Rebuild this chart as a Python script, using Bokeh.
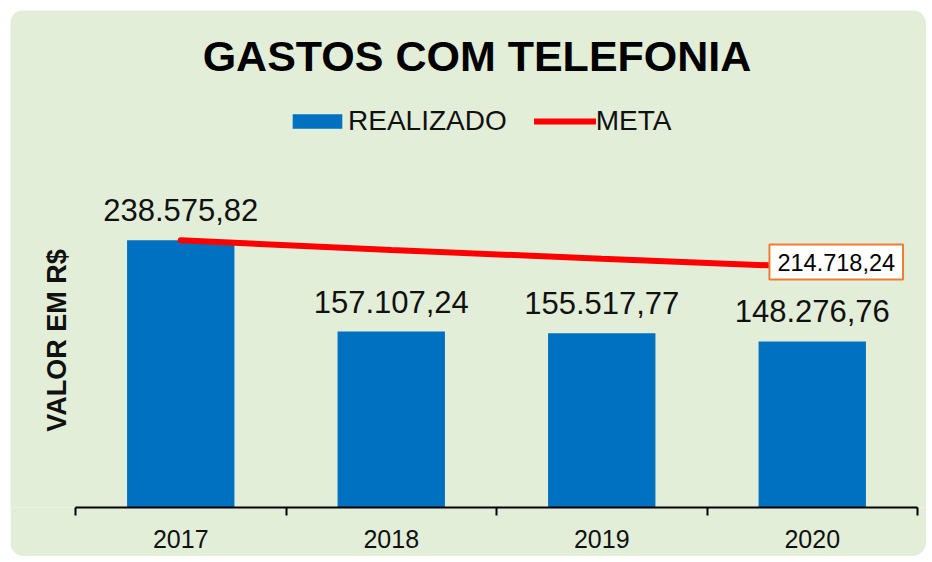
import numpy as np
from bokeh.plotting import figure
from bokeh.models import (Range1d, FixedTicker, Label, Legend, LegendItem,
                          ColumnDataSource)
from bokeh.core.properties import value
from bokeh.embed import file_html
from bokeh.resources import INLINE

# ---- data ----
years = ["2017", "2018", "2019", "2020"]
realizado = [238575.82, 157107.24, 155517.77, 148276.76]
meta = [238575.82, 230000.00, 222000.00, 214718.24]
title_text = "GASTOS COM TELEFONIA"
y_label = "VALOR EM R$"


def brl(v):
    s = f"{v:,.2f}"
    return s.replace(",", "X").replace(".", ",").replace("X", ".")


FONT = "Liberation Sans"
BG = "#E3EED9"
BLUE = "#0070C0"
RED = "#FF0000"
ORANGE = "#ED7D31"
TXT = "#111111"

# layout (pixels inside the figure)
W, H = 916, 546
AX_L, AX_R = 65, 907        # where the category axis starts / ends
FRAME_B = 497               # y of the category axis line
PX_PER_UNIT = 1.12 / 1000   # vertical scale

n = len(years)
ux = (AX_R - AX_L) / n
x_start = -AX_L / ux
x_end = n + (W - AX_R) / ux
y_end = FRAME_B / PX_PER_UNIT

x = np.arange(n) + 0.5

p = figure(width=W, height=H, output_backend="svg", toolbar_location=None,
           x_range=Range1d(x_start, x_end), y_range=Range1d(0, y_end),
           min_border_left=0, min_border_right=0, min_border_top=0,
           min_border_bottom=H - FRAME_B, background_fill_color=BG,
           border_fill_color=BG, outline_line_color=None)
p.styles = {"margin-left": "10px", "margin-top": "10px",
            "border-radius": "14px", "overflow": "hidden"}
p.grid.visible = False
p.yaxis.visible = False

src = ColumnDataSource(dict(x=x, top=realizado, meta=meta,
                            lab=[brl(v) for v in realizado]))

bars = p.vbar(x="x", top="top", bottom=0, width=0.51, source=src,
              fill_color=BLUE, line_color=None)
line = p.line(x="x", y="meta", source=src, line_color=RED, line_width=6,
              line_cap="round")
p.text(x="x", y="top", text="lab", source=src, text_align="center",
       text_baseline="alphabetic", y_offset=-30, text_font=value(FONT),
       text_font_size="31px", text_color=TXT)

meta_lab = Label(x=x[-1], y=meta[-1], text=brl(meta[-1]), x_offset=24,
                 y_offset=5, text_align="center", text_baseline="middle",
                 text_font=FONT, text_font_size="23.5px", text_color="#000000",
                 background_fill_color="white", border_line_color=ORANGE,
                 border_line_width=2,
                 padding=dict(left=8, right=8, top=9, bottom=9))
p.add_layout(meta_lab)

title = Label(x=466.5, y=452, x_units="screen", y_units="screen",
              text=title_text, text_align="center",
              text_baseline="middle", text_font=FONT,
              text_font_size="43px", text_font_style="bold",
              text_color="#000000")
p.add_layout(title)

ylab = Label(x=46, y=167, x_units="screen", y_units="screen", angle=np.pi / 2,
             text=y_label, text_align="center", text_baseline="middle",
             text_font=FONT, text_font_size="27px", text_font_style="bold",
             text_color=TXT)
p.add_layout(ylab)

legend = Legend(items=[LegendItem(label="REALIZADO", renderers=[bars]),
                       LegendItem(label="META", renderers=[line])],
                orientation="horizontal", location=(276, 370), padding=0,
                spacing=27, label_standoff=0, glyph_width=62, glyph_height=18,
                label_text_font=FONT, label_text_font_size="28px",
                label_text_color=TXT, background_fill_alpha=0,
                border_line_alpha=0)
p.add_layout(legend)

xa = p.xaxis[0]
xa.bounds = (0, n)
xa.ticker = FixedTicker(ticks=list(x), minor_ticks=list(range(n + 1)))
xa.major_label_overrides = {float(xi): yr for xi, yr in zip(x, years)}
xa.axis_line_color = "black"
xa.axis_line_width = 2
xa.major_tick_line_color = None
xa.major_tick_out = 0
xa.major_tick_in = 0
xa.minor_tick_line_color = "black"
xa.minor_tick_line_width = 2
xa.minor_tick_out = 8
xa.minor_tick_in = 0
xa.major_label_standoff = 14
xa.major_label_text_font = FONT
xa.major_label_text_font_size = "25px"
xa.major_label_text_color = TXT

open("out.html", "w").write(file_html(p, INLINE))
